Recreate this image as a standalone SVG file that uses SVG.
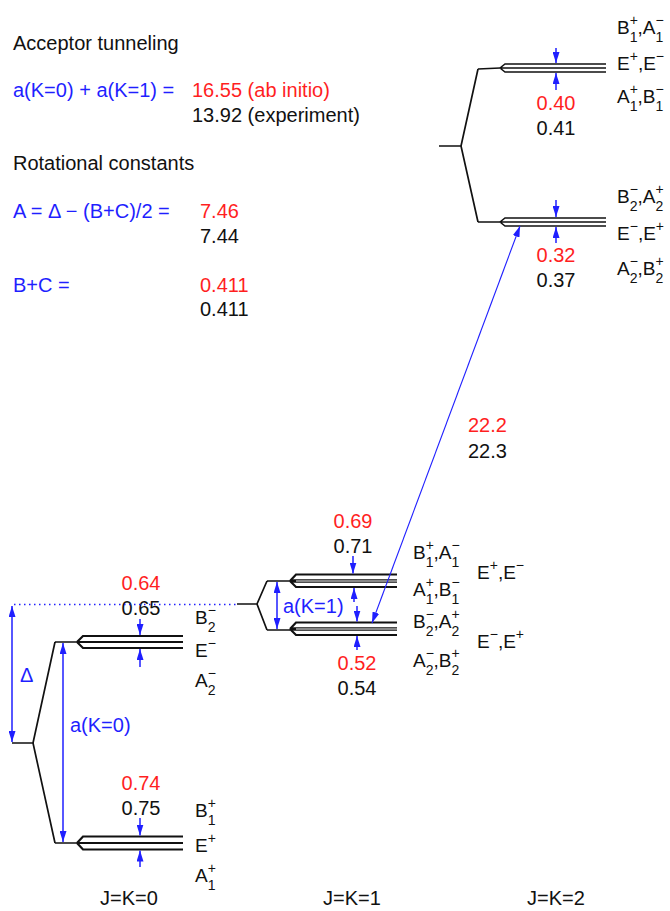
<svg xmlns="http://www.w3.org/2000/svg" width="670" height="911" viewBox="0 0 670 911">
<defs>
<style>
.t{font-family:"Liberation Sans",Arial,Helvetica,sans-serif;font-size:20px}
.lab{font-size:19px;fill:#111}
.s{font-size:14px}
.blue{fill:#1f1fff}
.red{fill:#ff1f1f}
.blk{fill:#111}
.lvl{fill:none;stroke:#111;stroke-width:2.2}
.lvl2{fill:none;stroke:#111;stroke-width:1.6}
.stem{fill:none;stroke:#111;stroke-width:1.7}
.arr{fill:none;stroke:#1f1fff;stroke-width:1.5}
.arrl{fill:none;stroke:#1f1fff;stroke-width:1.1}
</style>
<marker id="ah" viewBox="0 0 11 7" refX="11" refY="3.5" markerWidth="11" markerHeight="7" markerUnits="userSpaceOnUse" orient="auto-start-reverse">
<path d="M0,0 L11,3.5 L0,7 z" fill="#1f1fff"/>
</marker>
</defs>
<rect width="670" height="911" fill="#fff"/>

<g id="summary" class="t">
<text x="13" y="50" class="blk">Acceptor tunneling</text>
<text x="13" y="97" class="blue">a(K=0) + a(K=1) =</text>
<text x="192" y="97" class="red">16.55 (ab initio)</text>
<text x="192" y="122" class="blk">13.92 (experiment)</text>
<text x="13" y="170" class="blk">Rotational constants</text>
<text x="13" y="218" class="blue">A = Δ − (B+C)/2 =</text>
<text x="200" y="218" class="red">7.46</text>
<text x="200" y="243" class="blk">7.44</text>
<text x="13" y="292" class="blue">B+C =</text>
<text x="200" y="292" class="red">0.411</text>
<text x="200" y="316" class="blk">0.411</text>
</g>

<g id="JK0">
<path class="stem" d="M12,743 L33,743 M55,642 L33,743 L55,843 M55,642 L77,642 M55,843 L77,843"/>
<path class="lvl" d="M77,642 L83,636 L183,636 M77,642 L183,642 M77,642 L83,648 L183,648"/>
<path class="lvl" d="M77,843 L83,836.5 L183,836.5 M77,843 L183,843 M77,843 L83,849.5 L183,849.5"/>
<g class="t">
<text x="141" y="590" text-anchor="middle" class="red">0.64</text>
<text x="141" y="615" text-anchor="middle" class="blk">0.65</text>
<text x="141" y="790" text-anchor="middle" class="red">0.74</text>
<text x="141" y="815" text-anchor="middle" class="blk">0.75</text>
<text x="20" y="682" class="blue">Δ</text>
<text x="70" y="732" class="blue">a(K=0)</text>
<text x="129" y="905" text-anchor="middle" class="blk">J=K=0</text>
</g>
<g class="t lab">
<text x="195" y="624">B<tspan class="s" dy="-9">−</tspan><tspan class="s" dx="-8.2" dy="17">2</tspan></text>
<text x="195" y="657">E<tspan class="s" dy="-9">−</tspan></text>
<text x="195" y="687">A<tspan class="s" dy="-9">−</tspan><tspan class="s" dx="-8.2" dy="17">2</tspan></text>
<text x="195" y="817">B<tspan class="s" dy="-9">+</tspan><tspan class="s" dx="-8.2" dy="17">1</tspan></text>
<text x="195" y="852">E<tspan class="s" dy="-9">+</tspan></text>
<text x="195" y="882">A<tspan class="s" dy="-9">+</tspan><tspan class="s" dx="-8.2" dy="17">1</tspan></text>
</g>
</g>

<g id="JK1">
<path class="stem" d="M237,604 L257,604 M267,581 L257,604 L267,630 M267,581 L290,581 M267,630 L290,630"/>
<path class="lvl" d="M290,581 L296,574.5 L397,574.5 M290,581 L296,587 L397,587"/>
<path d="M291,581 L397,581" fill="none" stroke="#111" stroke-width="3.5"/>
<path d="M296,581 L397,581" fill="none" stroke="#fff" stroke-width="1"/>
<path class="lvl" d="M290,629 L296,622.5 L397,622.5 M290,629 L296,635 L397,635"/>
<path d="M291,629 L397,629" fill="none" stroke="#111" stroke-width="3.5"/>
<path d="M296,629 L397,629" fill="none" stroke="#fff" stroke-width="1"/>
<g class="t">
<text x="353" y="528" text-anchor="middle" class="red">0.69</text>
<text x="353" y="553" text-anchor="middle" class="blk">0.71</text>
<text x="357" y="670" text-anchor="middle" class="red">0.52</text>
<text x="357" y="695" text-anchor="middle" class="blk">0.54</text>
<text x="283" y="613" class="blue">a(K=1)</text>
<text x="352" y="905" text-anchor="middle" class="blk">J=K=1</text>
</g>
<g class="t lab">
<text x="413" y="559">B<tspan class="s" dy="-9">+</tspan><tspan class="s" dx="-8.2" dy="17">1</tspan><tspan dy="-8">,A</tspan><tspan class="s" dy="-9">−</tspan><tspan class="s" dx="-8.2" dy="17">1</tspan></text>
<text x="413" y="596">A<tspan class="s" dy="-9">+</tspan><tspan class="s" dx="-8.2" dy="17">1</tspan><tspan dy="-8">,B</tspan><tspan class="s" dy="-9">−</tspan><tspan class="s" dx="-8.2" dy="17">1</tspan></text>
<text x="413" y="628">B<tspan class="s" dy="-9">−</tspan><tspan class="s" dx="-8.2" dy="17">2</tspan><tspan dy="-8">,A</tspan><tspan class="s" dy="-9">+</tspan><tspan class="s" dx="-8.2" dy="17">2</tspan></text>
<text x="413" y="667">A<tspan class="s" dy="-9">−</tspan><tspan class="s" dx="-8.2" dy="17">2</tspan><tspan dy="-8">,B</tspan><tspan class="s" dy="-9">+</tspan><tspan class="s" dx="-8.2" dy="17">2</tspan></text>
<text x="477" y="579">E<tspan class="s" dy="-9">+</tspan><tspan dy="9">,E</tspan><tspan class="s" dy="-9">−</tspan></text>
<text x="477" y="648">E<tspan class="s" dy="-9">−</tspan><tspan dy="9">,E</tspan><tspan class="s" dy="-9">+</tspan></text>
</g>
</g>

<g id="JK2">
<path class="stem" d="M439,146 L461,146 M478,69 L461,146 L478,222 M478,69 L500,68 M478,222 L500,222"/>
<path class="lvl2" d="M500,68 L505,64 L606,64 M500,68 L606,68 M500,68 L505,72 L606,72"/>
<path class="lvl2" d="M500,222 L505,218 L606,218 M500,222 L606,222 M500,222 L505,226 L606,226"/>
<g class="t">
<text x="556" y="110" text-anchor="middle" class="red">0.40</text>
<text x="556" y="135" text-anchor="middle" class="blk">0.41</text>
<text x="556" y="262" text-anchor="middle" class="red">0.32</text>
<text x="556" y="287" text-anchor="middle" class="blk">0.37</text>
<text x="556" y="905" text-anchor="middle" class="blk">J=K=2</text>
</g>
<g class="t lab">
<text x="617" y="34">B<tspan class="s" dy="-9">+</tspan><tspan class="s" dx="-8.2" dy="17">1</tspan><tspan dy="-8">,A</tspan><tspan class="s" dy="-9">−</tspan><tspan class="s" dx="-8.2" dy="17">1</tspan></text>
<text x="617" y="70">E<tspan class="s" dy="-9">+</tspan><tspan dy="9">,E</tspan><tspan class="s" dy="-9">−</tspan></text>
<text x="617" y="103">A<tspan class="s" dy="-9">+</tspan><tspan class="s" dx="-8.2" dy="17">1</tspan><tspan dy="-8">,B</tspan><tspan class="s" dy="-9">−</tspan><tspan class="s" dx="-8.2" dy="17">1</tspan></text>
<text x="617" y="203">B<tspan class="s" dy="-9">−</tspan><tspan class="s" dx="-8.2" dy="17">2</tspan><tspan dy="-8">,A</tspan><tspan class="s" dy="-9">+</tspan><tspan class="s" dx="-8.2" dy="17">2</tspan></text>
<text x="617" y="240">E<tspan class="s" dy="-9">−</tspan><tspan dy="9">,E</tspan><tspan class="s" dy="-9">+</tspan></text>
<text x="617" y="275">A<tspan class="s" dy="-9">−</tspan><tspan class="s" dx="-8.2" dy="17">2</tspan><tspan dy="-8">,B</tspan><tspan class="s" dy="-9">+</tspan><tspan class="s" dx="-8.2" dy="17">2</tspan></text>
</g>
</g>

<g id="transition" class="t">
<text x="468" y="432" class="red">22.2</text>
<text x="468" y="458" class="blk">22.3</text>
</g>

<g id="connectors">
<path d="M14,604.5 L237,604.5" fill="none" stroke="#1f1fff" stroke-width="1.5" stroke-dasharray="1.5 3.5"/>
<path class="arr" d="M12,606 L12,742" marker-start="url(#ah)" marker-end="url(#ah)"/>
<path class="arr" d="M63,643 L63,842" marker-start="url(#ah)" marker-end="url(#ah)"/>
<path class="arr" d="M140,619 L140,635" marker-end="url(#ah)"/>
<path class="arr" d="M140,667 L140,649" marker-end="url(#ah)"/>
<path class="arr" d="M140,818 L140,835.5" marker-end="url(#ah)"/>
<path class="arr" d="M140,867 L140,850.5" marker-end="url(#ah)"/>
<path class="arr" d="M277,582 L277,629" marker-start="url(#ah)" marker-end="url(#ah)"/>
<path class="arr" d="M353,556 L353,573.5" marker-end="url(#ah)"/>
<path class="arr" d="M354,602 L354,588" marker-end="url(#ah)"/>
<path class="arr" d="M357,606 L357,621.5" marker-end="url(#ah)"/>
<path class="arr" d="M357,650 L357,636" marker-end="url(#ah)"/>
<path class="arr" d="M556,48 L556,63" marker-end="url(#ah)"/>
<path class="arr" d="M556,90 L556,73" marker-end="url(#ah)"/>
<path class="arr" d="M556,200 L556,217" marker-end="url(#ah)"/>
<path class="arr" d="M556,243 L556,227" marker-end="url(#ah)"/>
<path class="arrl" d="M372,623 L520,226" marker-start="url(#ah)" marker-end="url(#ah)"/>
</g>
</svg>
